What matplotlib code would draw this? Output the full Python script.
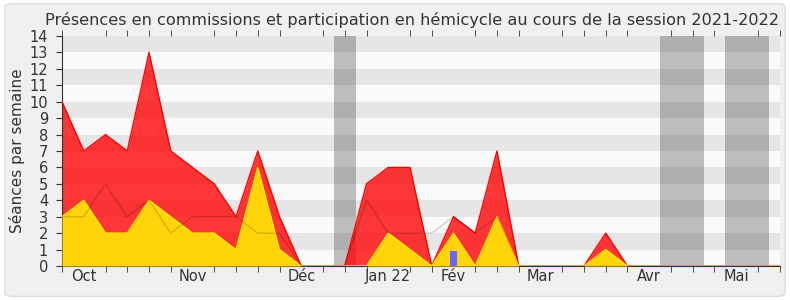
import numpy as np
import matplotlib.pyplot as plt
from matplotlib.patches import FancyBboxPatch

# semaines de la session (index 0 = semaine du 20 sept. 2021)
semaines = np.arange(34)
total = [10, 7, 8, 7, 13, 7, 6, 5, 3, 7, 3, 0, 0, 0, 5, 6, 6, 0, 3, 2, 7, 0,
         0, 0, 0, 2, 0, 0, 0, 0, 0, 0, 0, 0]
hemicycle = [3, 4, 2, 2, 4, 3, 2, 2, 1, 6, 1, 0, 0, 0, 0, 2, 1, 0, 2, 0, 3, 0,
             0, 0, 0, 1, 0, 0, 0, 0, 0, 0, 0, 0]
mediane = [3, 3, 5, 3, 4, 2, 3, 3, 3, 2, 2, 0, 0, 0, 4, 2, 2, 2, 3, 2, 3, 0,
           0, 0, 0, 0, 0, 0, 0, 0, 0, 0, 0, 0]
questions_x = [18]
questions = [0.9]
vacances = [(12.5, 13.5), (27.5, 29.5), (30.5, 32.5)]
mois_pos = [1, 6, 11, 15, 18, 22, 27, 31]
mois = ["Oct", "Nov", "Déc", "Jan 22", "Fév", "Mar", "Avr", "Mai"]

fig = plt.figure(figsize=(7.9, 3.0), dpi=100, facecolor="white")
fond = FancyBboxPatch((0.006, 0.012), 0.988, 0.976, boxstyle="round,pad=0,rounding_size=0.012",
                      transform=fig.transFigure, facecolor="#f0f0f0", edgecolor="#dedede", lw=1,
                      zorder=-10)
fig.patches.append(fond)

ax = fig.add_axes([0.0785, 0.1133, 0.9085, 0.7667])
ax.set_facecolor("#fafafa")
for y in range(1, 14, 2):
    ax.axhspan(y, y + 1, color="#e6e6e6", lw=0, zorder=0)
for a, b in vacances:
    ax.axvspan(a, b, color="#4b4b4b", alpha=0.35, lw=0, zorder=1)

ax.fill_between(semaines, total, color="#ff0000", alpha=0.78, lw=0, zorder=2)
ax.plot(semaines, total, color="#ff0000", lw=1, zorder=3)
ax.fill_between(semaines, hemicycle, color="#ffd40a", lw=0, zorder=4)
ax.plot(semaines, hemicycle, color="#ffee00", lw=1, zorder=5)
ax.plot(semaines, mediane, color="#000000", alpha=0.18, lw=0.9, zorder=6)
ax.bar(questions_x, questions, width=0.28, color="#6666ff", zorder=7)

ax.set_xlim(0, 33)
ax.set_ylim(0, 14)
ax.set_yticks(range(15))
ax.set_xticks(mois_pos)
ax.set_xticklabels(mois)
ax.set_xticks(semaines, minor=True)
ax.tick_params(axis="x", which="both", top=True, length=4, color="#333333", labelsize=10.5,
               labelcolor="#333333", pad=2)
ax.tick_params(axis="y", length=4, color="#333333", labelsize=10.5, labelcolor="#333333", pad=6)
ax.tick_params(axis="x", which="major", length=0)
for s in ["top", "right"]:
    ax.spines[s].set_visible(False)
ax.spines["left"].set_color("#333333")
ax.spines["bottom"].set_color("#333333")
ax.set_ylabel("Séances par semaine", fontsize=11, color="#333333", labelpad=3)
fig.text(0.522, 0.935, "Présences en commissions et participation en hémicycle au cours de la session 2021-2022",
         ha="center", va="center", fontsize=11.6, color="#333333")

fig.savefig("out.png", dpi=100, facecolor=fig.get_facecolor())
